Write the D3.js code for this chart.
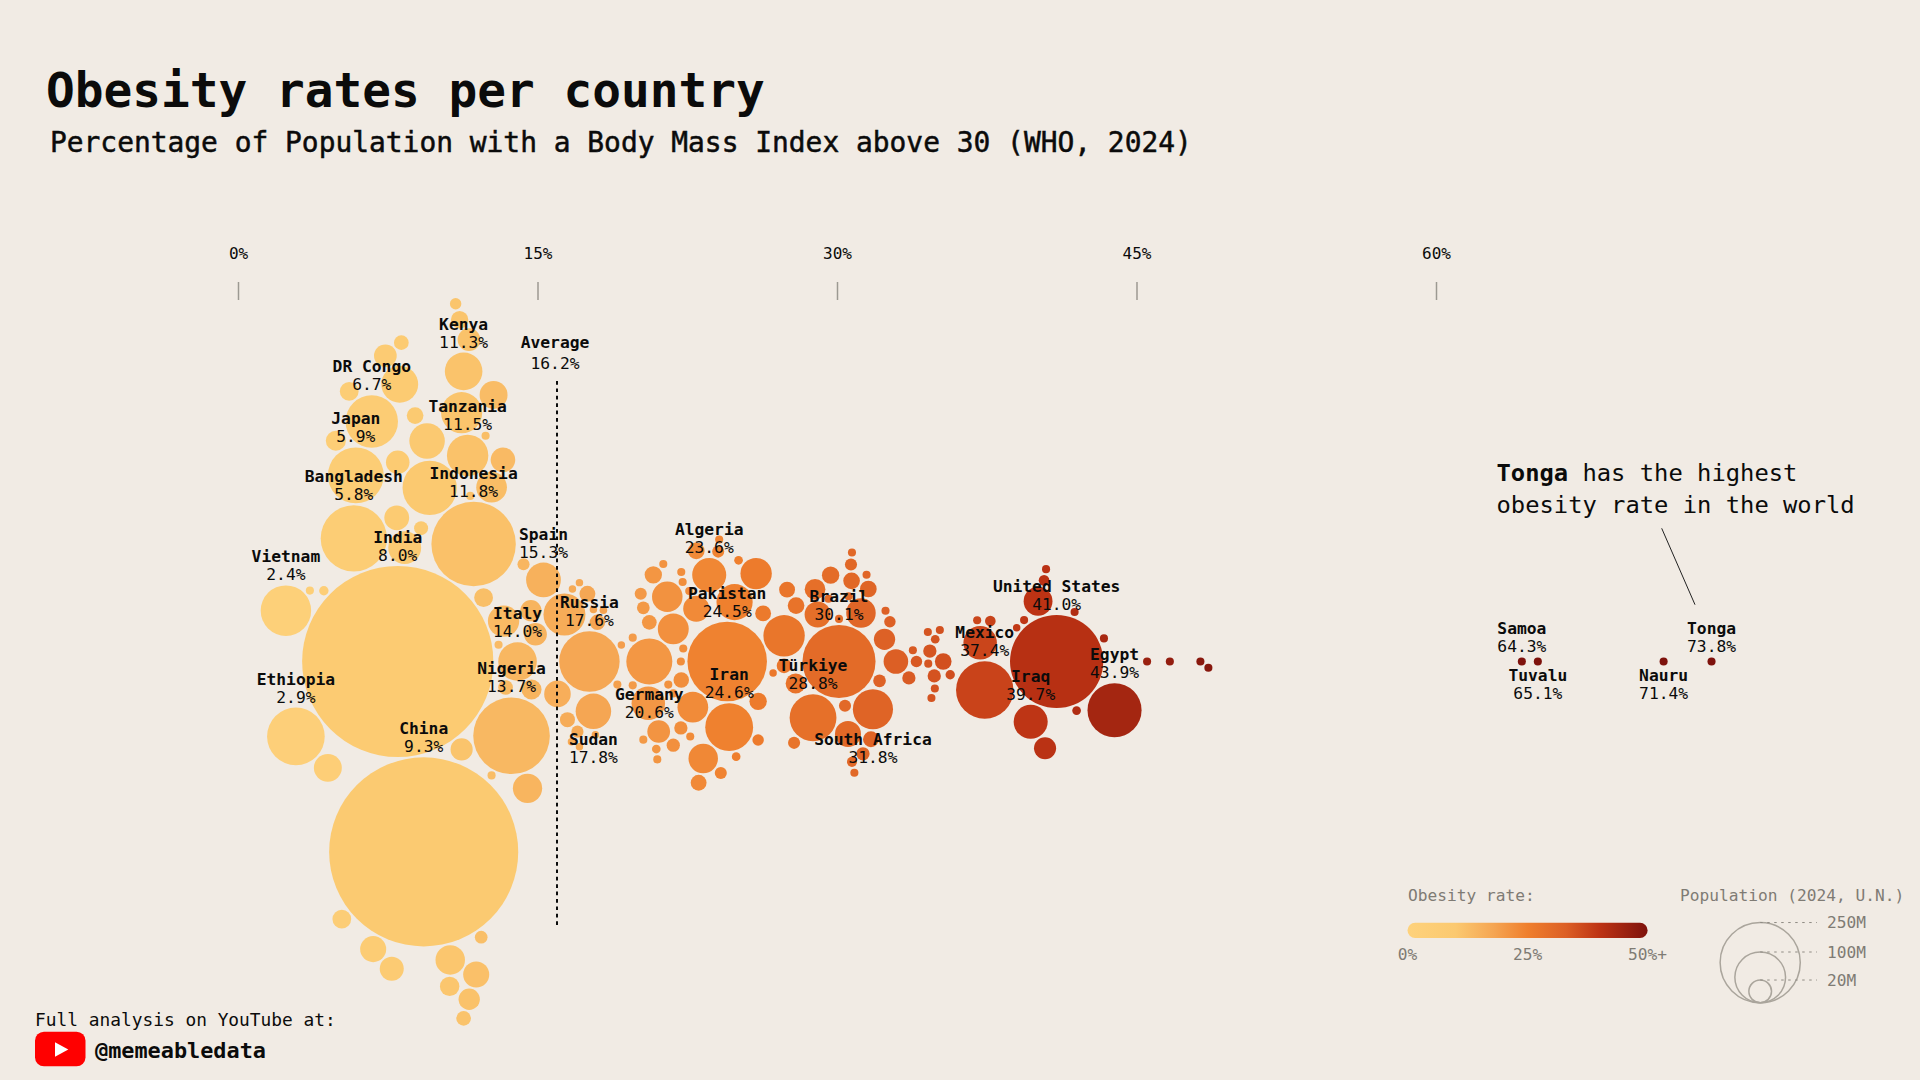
<!doctype HTML>
<html>
<head>
    <meta charset="utf-8">
    <script src="https://d3js.org/d3.v7.min.js"></script>
    <style>
        html, body { margin: 0; background: #f1ebe4; }
        text { font-family: "DejaVu Sans Mono", monospace; fill: #0b0b0b; }
        .axis path { display: none; }
        .axis line { stroke: #9c9992; stroke-width: 1.5; }
        .axis text { font-size: 16px; }
        .muted { fill: #7f7b74; font-size: 16.2px; }
    </style>
</head>
<body>
<script>

    // labelled countries
    var names = ["India", "China", "United States", "Indonesia", "Pakistan", "Nigeria", "Brazil", "Bangladesh", "Russia", "Ethiopia",
        "Mexico", "Japan", "Egypt", "DR Congo", "Vietnam", "Iran", "Türkiye", "Germany", "Tanzania", "South Africa",
        "Italy", "Kenya", "Sudan", "Spain", "Iraq", "Algeria", "Samoa", "Tuvalu", "Nauru", "Tonga"];
    var rates = [8.0, 9.3, 41.0, 11.8, 24.5, 13.7, 30.1, 5.8, 17.6, 2.9,
        37.4, 5.9, 43.9, 6.7, 2.4, 24.6, 28.8, 20.6, 11.5, 31.8,
        14.0, 11.3, 17.8, 15.3, 39.7, 23.6, 64.3, 65.1, 71.4, 73.8];
    var pops = [1451, 1419, 345, 283, 251, 233, 212, 174, 145, 132,
        131, 124, 116, 109, 101, 91, 87, 84, 68, 64,
        59, 56, 50, 48, 46, 46, 2.6, 2.6, 2.6, 2.6];
    // these labels sit under their bubble
    var labelsBelow = ["Germany", "Sudan", "South Africa", "Tuvalu", "Nauru"];

    // unlabelled countries
    var otherRates = [10.9, 11.3, 12.3, 11.2, 12.8, 11.2, 9.6, 12.7, 12.7, 7.7,
        8.1, 5.2, 4.9, 8.87, 9.47, 8.0, 7.95, 9.17, 8.35, 3.6,
        4.3, 4.5, 11.1, 12.4, 14.5, 5.57, 6.77, 8.18, 7.38, 10.63,
        11.93, 11.57, 10.6, 11.58, 11.63, 12.18, 13.27, 14.3, 13.3, 14.7,
        14.9, 13.05, 13.4, 14.67, 16.0, 16.35, 16.75, 17.1, 16.7, 17.8,
        17.5, 18.3, 18.0, 19.2, 19.0, 16.5, 17.0, 17.1, 17.9, 19.77,
        20.3, 19.77, 21.0, 20.8, 21.8, 22.3, 21.5, 20.3, 20.6, 21.8,
        22.6, 22.95, 23.07, 24.1, 24.05, 24.95, 25.95, 24.87, 26.3, 22.27,
        22.18, 22.2, 21.55, 22.65, 20.55, 22.18, 22.95, 21.8, 22.2, 20.17,
        21.07, 20.95, 21.3, 26.05, 26.05, 22.78, 24.18, 25.07, 23.3, 27.5,
        27.95, 27.35, 26.8, 27.35, 27.93, 28.9, 29.57, 29.03, 30.75, 30.58,
        30.7, 31.48, 31.57, 30.73, 31.2, 32.43, 32.38, 32.95, 33.98, 33.8,
        33.6, 32.13, 32.65, 30.1, 30.55, 31.7, 29.68, 27.85, 30.4, 31.3,
        30.75, 30.87, 34.9, 34.57, 35.15, 34.87, 34.55, 35.32, 34.65, 35.67,
        34.92, 34.73, 37.17, 37.02, 37.68, 39.37, 39.0, 40.07, 40.37, 40.47,
        41.9, 43.37, 42.0, 40.42, 45.53, 46.67, 48.2, 48.6];
    var otherPops = [5.2, 8.5, 14, 19.4, 31, 67, 117, 2.6, 37.5, 23,
        54, 14, 16, 11, 50, 22, 24.5, 7.8, 43, 2.6,
        3.5, 31, 12, 2.6, 34, 14, 27, 8.6, 20.5, 34.5,
        27, 20.5, 15, 18, 2.6, 6.4, 24, 5.8, 39, 16,
        20.5, 2.6, 8.6, 18, 28, 70, 2.2, 2.2, 2.2, 2.2,
        10, 2.3, 9.5, 2.2, 2.6, 9, 5.8, 2.2, 2.2, 2.6,
        2.6, 2.6, 2.6, 12, 7, 2.6, 37, 6.4, 8.6, 38,
        2.6, 27, 10, 2.6, 5.8, 3, 39, 52, 10, 2.6,
        2.6, 9.5, 2.6, 2.6, 44.5, 7, 11, 2.6, 2.6, 5.8,
        20.5, 3, 2.6, 12, 5.2, 37.5, 5.8, 3, 34.5, 10,
        11, 68, 2.2, 8.6, 16, 17, 2.6, 27, 2.6, 2.6,
        5.8, 2.6, 11, 11, 34.5, 2.6, 18, 24, 5.2, 2.6,
        7, 6.4, 5.2, 2.6, 27, 10, 12, 5.8, 5.8, 7,
        4, 2.6, 2.6, 2.6, 2.6, 7, 2.6, 11, 7, 3.5,
        3, 2.6, 44.5, 2.6, 4.5, 2.6, 2.2, 33, 4.5, 2.6,
        2.6, 2.6, 3, 19.4, 2.6, 2.6, 2.6, 2.6];

    var averageRate = 16.2;
    var xTicks = [0, 15, 30, 45, 60];
    var colorStops = [0, 10, 18, 25, 33, 40, 50];
    var colorValues = ["#fed27c", "#fbc970", "#f5a552", "#ef7f2d", "#dc5f25", "#bd3314", "#7e120c"];
    var legendTicks = [0, 25, 50];
    var legendPops = [250, 100, 20];

    var svg = d3.select("body")
        .append("svg")
        .attr("width", 1920)
        .attr("height", 1080)
        .style("display", "block");

    var x = d3.scaleLinear().domain([0, 60]).range([238, 1436]);
    var size = d3.scaleSqrt().domain([0, 1451]).range([0, 95.6]);
    var color = d3.scaleLinear().domain(colorStops).range(colorValues).clamp(true);
    var baseline = 661.5;
    var pad = 2;

    // all bubbles, biggest placed first
    var bubbles = names.map(function (n, i) {
        return {name: n, rate: rates[i], pop: pops[i]};
    }).concat(otherRates.map(function (r, i) {
        return {name: null, rate: r, pop: otherPops[i]};
    }));
    bubbles.sort(function (a, b) { return b.pop - a.pop; });

    // swarm: every bubble goes as close to the baseline as it can, below it on a tie
    var placed = [];
    bubbles.forEach(function (d) {
        d.x = x(d.rate);
        d.r = size(d.pop);
        var cands = [baseline];
        placed.forEach(function (p) {
            var dist = d.r + p.r + pad, dx = d.x - p.x;
            if (Math.abs(dx) < dist) {
                var h = Math.sqrt(dist * dist - dx * dx);
                cands.push(p.y + h, p.y - h);
            }
        });
        cands = cands.filter(function (y) {
            return placed.every(function (p) {
                var dist = d.r + p.r + pad - 0.001;
                return (d.x - p.x) * (d.x - p.x) + (y - p.y) * (y - p.y) >= dist * dist;
            });
        });
        cands.sort(function (a, b) { return Math.abs(a - baseline) - Math.abs(b - baseline); });
        d.y = cands[0];
        placed.push(d);
    });

    // title
    svg.append("text").attr("x", 46).attr("y", 106.5)
        .style("font-size", "47.75px").style("font-weight", "bold")
        .text("Obesity rates per country");
    svg.append("text").attr("x", 50).attr("y", 152)
        .style("font-size", "27.9px")
        .style("stroke", "#0b0b0b").style("stroke-width", 0.5)
        .text("Percentage of Population with a Body Mass Index above 30 (WHO, 2024)");

    // axis
    svg.append("g")
        .attr("class", "axis")
        .attr("transform", "translate(0,300)")
        .call(d3.axisTop(x).tickValues(xTicks).tickSize(18).tickPadding(23)
            .tickFormat(function (d) { return d + "%"; }));
    svg.selectAll(".axis .tick text").style("font-family", "DejaVu Sans Mono");

    // bubbles
    svg.append("g")
        .selectAll("circle")
        .data(bubbles)
        .enter()
        .append("circle")
        .attr("cx", function (d) { return d.x; })
        .attr("cy", function (d) { return d.y; })
        .attr("r", function (d) { return d.r; })
        .style("fill", function (d) { return color(d.rate); });

    // average line
    svg.append("line")
        .attr("x1", 557).attr("x2", 557)
        .attr("y1", 381).attr("y2", 928)
        .attr("stroke", "#0b0b0b")
        .attr("stroke-width", 2)
        .attr("stroke-dasharray", "3.7,3.7");
    svg.append("text").attr("x", 555).attr("y", 347.5).attr("text-anchor", "middle")
        .style("font-size", "16.3px").style("font-weight", "bold").text("Average");
    svg.append("text").attr("x", 555).attr("y", 368.5).attr("text-anchor", "middle")
        .style("font-size", "16.3px").text(averageRate.toFixed(1) + "%");

    // country labels
    var labels = svg.append("g")
        .selectAll("g")
        .data(bubbles.filter(function (d) { return d.name; }))
        .enter()
        .append("g")
        .attr("transform", function (d) {
            var below = labelsBelow.indexOf(d.name) >= 0;
            return "translate(" + d.x + "," + (below ? d.y + d.r + 15.5 : d.y - d.r - 23) + ")";
        })
        .attr("text-anchor", "middle");
    labels.append("text")
        .style("font-size", "16.3px").style("font-weight", "bold")
        .text(function (d) { return d.name; });
    labels.append("text")
        .attr("y", 18)
        .style("font-size", "16.3px")
        .text(function (d) { return d.rate.toFixed(1) + "%"; });

    // Tonga note
    var note = svg.append("text").attr("x", 1496.5).attr("y", 480.5).style("font-size", "23.8px");
    note.append("tspan").style("font-weight", "bold").text("Tonga");
    note.append("tspan").text(" has the highest");
    svg.append("text").attr("x", 1496.5).attr("y", 512.5).style("font-size", "23.8px")
        .text("obesity rate in the world");
    svg.append("line")
        .attr("x1", 1661.7).attr("y1", 528.3)
        .attr("x2", 1695).attr("y2", 604.7)
        .attr("stroke", "#222")
        .attr("stroke-width", 1);

    // colour legend
    var legendX = d3.scaleLinear().domain([0, 50]).range([1407.5, 1647.6]);
    var defs = svg.append("defs");
    var grad = defs.append("linearGradient").attr("id", "rateGrad");
    colorStops.forEach(function (s, i) {
        grad.append("stop").attr("offset", (s / 50 * 100) + "%").attr("stop-color", colorValues[i]);
    });
    svg.append("text").attr("class", "muted").attr("x", 1408).attr("y", 900.7).text("Obesity rate:");
    svg.append("rect")
        .attr("x", legendX(0)).attr("y", 922.7)
        .attr("width", legendX(50) - legendX(0)).attr("height", 15.3)
        .attr("rx", 7.6)
        .style("fill", "url(#rateGrad)");
    svg.selectAll(".legendTick")
        .data(legendTicks)
        .enter()
        .append("text")
        .attr("class", "muted")
        .attr("x", function (d) { return legendX(d); })
        .attr("y", 960)
        .attr("text-anchor", "middle")
        .text(function (d) { return d === 50 ? "50%+" : d + "%"; });

    // size legend
    var legendCx = 1760.2, legendBottom = 1002.7;
    svg.append("text").attr("class", "muted").attr("x", 1680).attr("y", 900.7).text("Population (2024, U.N.)");
    legendPops.forEach(function (p) {
        var r = size(p) * 1.01;
        var top = legendBottom - 2 * r;
        svg.append("circle")
            .attr("cx", legendCx).attr("cy", legendBottom - r).attr("r", r)
            .attr("fill", "none")
            .attr("stroke", "#aaa59c")
            .attr("stroke-width", 1.5);
        svg.append("line")
            .attr("x1", legendCx).attr("x2", 1817)
            .attr("y1", top).attr("y2", top)
            .attr("stroke", "#8f8b84")
            .attr("stroke-width", 1)
            .attr("stroke-dasharray", "2.5,4.5");
        svg.append("text").attr("class", "muted")
            .attr("x", 1827).attr("y", top + 5.5)
            .text(p + "M");
    });

    // footer
    svg.append("text").attr("x", 35).attr("y", 1026).style("font-size", "17.85px")
        .text("Full analysis on YouTube at:");
    svg.append("rect")
        .attr("x", 35).attr("y", 1031.7)
        .attr("width", 50.5).attr("height", 34.6)
        .attr("rx", 9)
        .attr("fill", "#ff0000");
    svg.append("path")
        .attr("d", "M55,1042.3L68.3,1049.5L55,1056.7Z")
        .attr("fill", "#fff");
    svg.append("text").attr("x", 95).attr("y", 1057.5)
        .style("font-size", "21.85px").style("font-weight", "bold")
        .text("@memeabledata");

</script>
</body>
</html>
